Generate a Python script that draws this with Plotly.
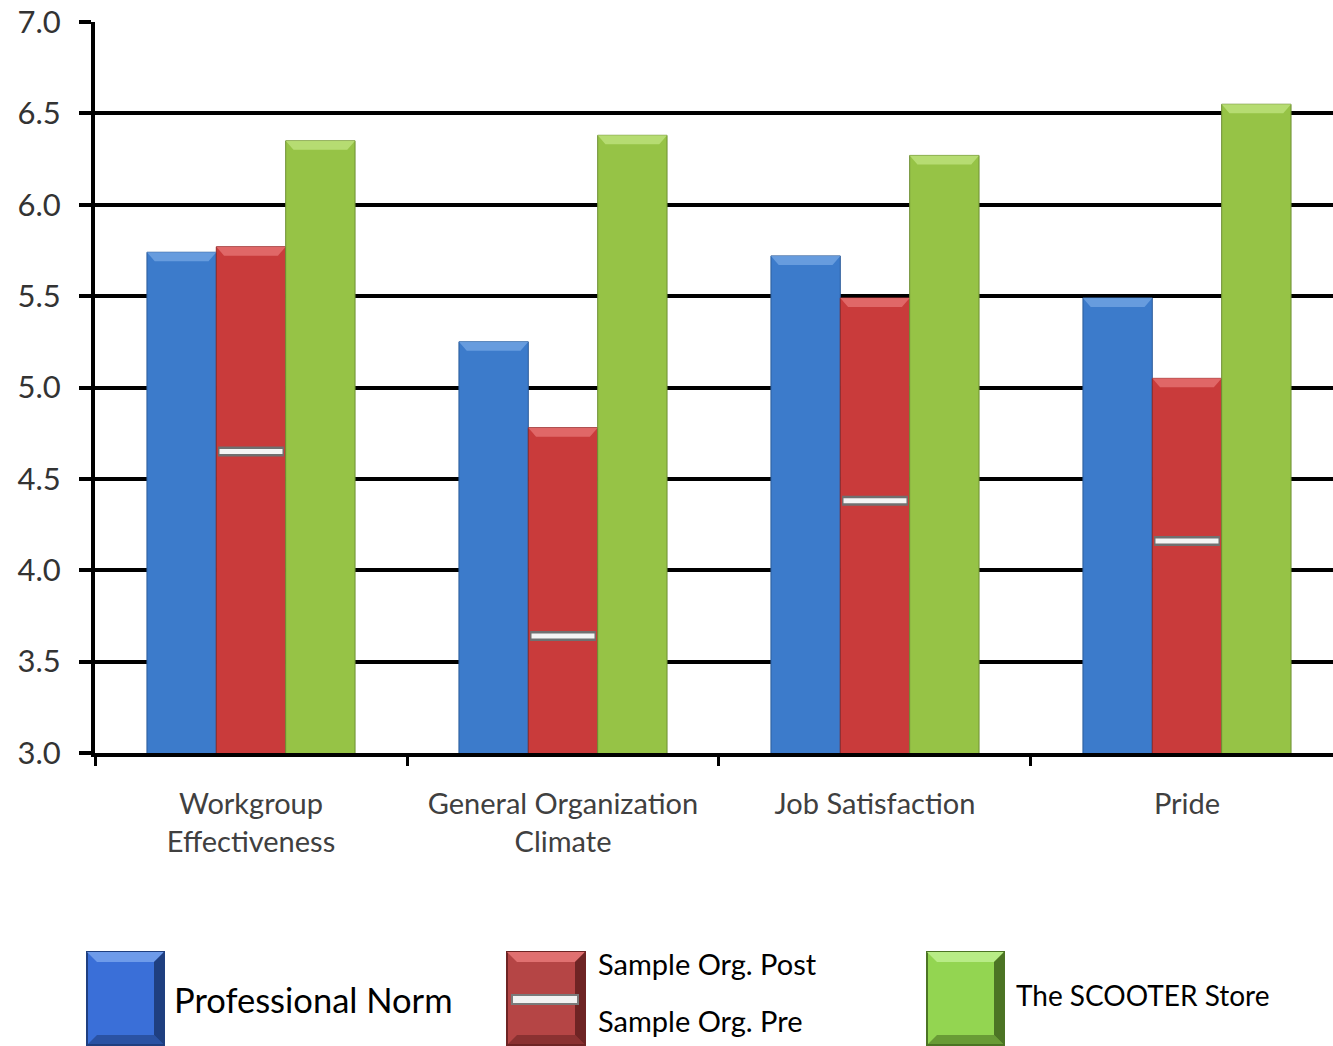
import plotly.graph_objects as go

categories = ["Workgroup<br>Effectiveness", "General Organization<br>Climate", "Job Satisfaction", "Pride"]
professional_norm = [5.74, 5.25, 5.72, 5.49]
sample_post = [5.77, 4.78, 5.49, 5.05]
scooter_store = [6.35, 6.38, 6.27, 6.55]
sample_pre = [4.65, 3.64, 4.38, 4.16]
y_ticks = [3.0, 3.5, 4.0, 4.5, 5.0, 5.5, 6.0, 6.5, 7.0]

W, H = 1333, 1046
L, R, T, B = 95, 0, 22, 293
FONT = "Lato"
BARGAP = 0.333

blue, red, green = "#3C7BCB", "#C93B3B", "#96C346"
blue_d, red_d, green_d = "#2C5C9A", "#8E2A2A", "#6E8F33"
blue_l, red_l, green_l = "#6FA2E2", "#E47070", "#BCE07A"

fig = go.Figure()
series = [
    (professional_norm, "Professional Norm", blue, blue_d, blue_l),
    (sample_post, "Sample Org. Post", red, red_d, red_l),
    (scooter_store, "The SCOOTER Store", green, green_d, green_l),
]
for vals, name, c, d, l in series:
    fig.add_bar(x=categories, y=vals, name=name,
                marker=dict(color=c, line=dict(color=d, width=1)))

fig.add_scatter(x=categories, y=sample_pre, mode="markers", name="Sample Org. Pre",
                marker=dict(symbol="line-ew", size=47, color="#7a7a7a",
                            line=dict(color="#707070", width=10)))
fig.add_scatter(x=categories, y=sample_pre, mode="markers", showlegend=False,
                marker=dict(symbol="line-ew", size=45, color="#f4f4f4",
                            line=dict(color="#f4f4f4", width=5)))

# top bevel highlight on each bar, positioned from the data values
bw = (1 - BARGAP) / 3
bev = 0.025
for j, (vals, name, c, d, l) in enumerate(series):
    for i, v in enumerate(vals):
        x0 = i + (j - 1.5) * bw
        x1 = x0 + bw
        fig.add_shape(type="path", xref="x", yref="y", ysizemode="pixel", yanchor=v,
                      path=f"M {x0},0 L {x1},0 L {x1-bev},-9 L {x0+bev},-9 Z",
                      fillcolor=l, line=dict(width=0), layer="above", opacity=0.85)

fig.update_layout(
    width=W, height=H, margin=dict(l=L, r=R, t=T, b=B, pad=0),
    paper_bgcolor="white", plot_bgcolor="white",
    barmode="group", bargap=BARGAP, bargroupgap=0,
    showlegend=False, font=dict(family=FONT),
)
fig.update_yaxes(range=[3.0, 7.0], tickvals=y_ticks, ticktext=[f"{v:.1f}" for v in y_ticks],
                 showgrid=True, gridcolor="black", gridwidth=4,
                 showline=True, linecolor="black", linewidth=4,
                 ticks="outside", ticklen=12, tickwidth=4, tickcolor="black",
                 ticklabelstandoff=12, tickfont=dict(size=31, color="#333333", family=FONT),
                 zeroline=False)
fig.update_xaxes(range=[-0.5, 3.468], showgrid=False, showline=True, linecolor="black",
                 linewidth=4, ticks="outside", tickson="boundaries", ticklen=9, tickwidth=3,
                 tickcolor="black", ticklabelstandoff=22,
                 tickfont=dict(size=29, color="#404040", family=FONT))

pw, ph = W - L - R, H - T - B
def px(x):
    return (x - L) / pw
def py(y):
    return (H - B - y) / ph

def legend_box(x0, x1, y0, y1, fill, dark, light):
    fig.add_shape(type="rect", xref="paper", yref="paper", x0=px(x0), x1=px(x1),
                  y0=py(y1), y1=py(y0), fillcolor=fill, line=dict(color=dark, width=2), layer="above")
    b = 10
    fig.add_shape(type="path", xref="paper", yref="paper", layer="above",
                  path=f"M {px(x0)},{py(y0)} L {px(x1)},{py(y0)} L {px(x1-b)},{py(y0+b)} L {px(x0+b)},{py(y0+b)} Z",
                  fillcolor=light, line=dict(width=0))
    fig.add_shape(type="path", xref="paper", yref="paper", layer="above",
                  path=f"M {px(x1)},{py(y0)} L {px(x1)},{py(y1)} L {px(x1-b)},{py(y1-b)} L {px(x1-b)},{py(y0+b)} Z",
                  fillcolor=dark, line=dict(width=0))
    fig.add_shape(type="path", xref="paper", yref="paper", layer="above",
                  path=f"M {px(x0)},{py(y1)} L {px(x1)},{py(y1)} L {px(x1-b)},{py(y1-b)} L {px(x0+b)},{py(y1-b)} Z",
                  fillcolor=dark, line=dict(width=0), opacity=0.6)

legend_box(87, 164, 952, 1045, "#3A6FD8", "#1F3F80", "#6E9BEA")
legend_box(507, 585, 952, 1045, "#B54545", "#6E2424", "#E07070")
legend_box(927, 1004, 952, 1045, "#93D551", "#4C7424", "#B8EC86")
fig.add_shape(type="rect", xref="paper", yref="paper", layer="above",
              x0=px(512), x1=px(578), y0=py(1004), y1=py(995),
              fillcolor="#f2f2f2", line=dict(color="#7a7a7a", width=2))

def label(x, y, text, size):
    fig.add_annotation(xref="paper", yref="paper", x=px(x), y=py(y), text=text,
                       showarrow=False, xanchor="left", yanchor="middle",
                       font=dict(size=size, color="black", family=FONT))

label(172, 999, "Professional Norm", 34.5)
label(596, 963, "Sample Org. Post", 29)
label(596, 1020, "Sample Org. Pre", 29)
label(1014, 995, "The SCOOTER Store", 28)

fig.write_html("out.html")
